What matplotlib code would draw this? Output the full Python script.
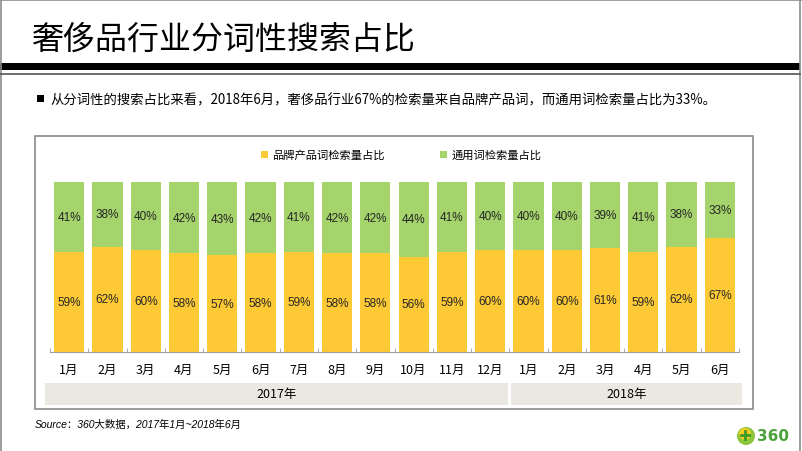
import matplotlib
matplotlib.use('Agg')
import matplotlib.pyplot as plt
import matplotlib.patches as patches

plt.rcParams['font.family'] = ['Noto Sans CJK SC', 'DejaVu Sans']

# --- data ---
months = ['1月', '2月', '3月', '4月', '5月', '6月', '7月', '8月', '9月', '10月', '11月', '12月',
          '1月', '2月', '3月', '4月', '5月', '6月']
brand_share = [59, 62, 60, 58, 57, 58, 59, 58, 58, 56, 59, 60, 60, 60, 61, 59, 62, 67]
generic_share = [41, 38, 40, 42, 43, 42, 41, 42, 42, 44, 41, 40, 40, 40, 39, 41, 38, 33]
years = ['2017年', '2018年']
year_counts = [12, 6]
series_names = ['品牌产品词检索量占比', '通用词检索量占比']

title = '奢侈品行业分词性搜索占比'
summary = '从分词性的搜索占比来看，2018年6月，奢侈品行业67%的检索量来自品牌产品词，而通用词检索量占比为33%。'
source = 'Source：360大数据，2017年1月~2018年6月'

c_brand = '#FDC935'
c_generic = '#A5D46C'
latin_cjk = ['Liberation Sans', 'Noto Sans CJK SC']

W, H = 802, 452
fig = plt.figure(figsize=(W / 100, H / 100), dpi=100)


def frac(x0, y0, x1, y1):
    # pixel box (top-left origin) -> figure fraction rect
    return [x0 / W, 1 - y1 / H, (x1 - x0) / W, (y1 - y0) / H]


# --- page decorations (pixel coordinates) ---
page = fig.add_axes([0, 0, 1, 1])
page.set_xlim(0, W)
page.set_ylim(H, 0)
page.axis('off')

page.plot([0.5, 0.5], [0, H], color='#8c8c8c', lw=1.2)
page.plot([800, 800], [0, H], color='#8c8c8c', lw=1.2)
page.plot([0, W], [0.8, 0.8], color='#8c8c8c', lw=1.2)

page.text(32, 40, title, fontsize=23, va='center', ha='left', color='black')
page.add_patch(patches.Rectangle((0, 64), 800, 7, color='black', lw=0))
page.plot([0, 800], [74.5, 74.5], color='#555555', lw=1.2)

page.add_patch(patches.Rectangle((37, 96), 7, 7, color='black', lw=0))
page.text(50, 100, summary, fontsize=9.6, va='center', ha='left', color='black')

# chart frame
page.add_patch(patches.Rectangle((35, 137), 718, 273, fill=False, edgecolor='#8a8a8a', lw=1.2))

page.text(35, 425, source, fontsize=7.5, va='center', ha='left', style='italic',
          color='black', family=latin_cjk)

# 360 logo
page.add_patch(patches.Circle((746, 437), 9, color='#8cc43c', lw=0))
page.add_patch(patches.Circle((745, 435), 6, color='#f5d020', lw=0))
page.plot([741, 749], [436, 436], color='#3a9a2a', lw=2)
page.plot([745, 745], [432, 440], color='#3a9a2a', lw=2)
page.text(757, 437, '360', fontsize=11, fontweight='bold', color='#4aa33a',
          va='center', ha='left', family='DejaVu Sans')

# --- stacked bars ---
ax = fig.add_axes(frac(50, 183, 739, 353))
x = list(range(len(months)))
b1 = ax.bar(x, brand_share, width=0.79, color=c_brand, label=series_names[0])
b2 = ax.bar(x, generic_share, width=0.79, bottom=brand_share, color=c_generic, label=series_names[1])
ax.bar_label(b1, labels=[f'{v}%' for v in brand_share], label_type='center',
             fontsize=8.5, color='#262626', family='Liberation Sans')
ax.bar_label(b2, labels=[f'{v}%' for v in generic_share], label_type='center',
             fontsize=8.5, color='#262626', family='Liberation Sans')

ax.set_xlim(-0.5, len(months) - 0.5)
ax.set_ylim(0, 100)
ax.patch.set_alpha(0)
for s in ['top', 'right', 'left']:
    ax.spines[s].set_visible(False)
ax.spines['bottom'].set_color('#a0a0a0')
ax.set_yticks([])
ax.set_xticks(x, months, fontsize=9)
ax.tick_params(axis='x', length=0, pad=8)
ax.set_xticks([i - 0.5 for i in range(len(months) + 1)], minor=True)
ax.tick_params(axis='x', which='minor', direction='in', length=3, color='#a0a0a0')

fig.legend(handles=[b1, b2], loc='center', bbox_to_anchor=(401 / W, 1 - 156 / H), ncol=2,
           frameon=False, fontsize=8.1, handlelength=0.6, handleheight=0.6, handletextpad=0.35,
           columnspacing=5.0)

# --- year band ---
yax = fig.add_axes(frac(50, 384, 739, 406))
yax.set_xlim(-0.5, len(months) - 0.5)
yax.set_ylim(0, 1)
yax.axis('off')
start = 0
for i, (yr, n) in enumerate(zip(years, year_counts)):
    left = start - 0.5 + (0.05 if i > 0 else -0.13)
    right = start + n - 0.5 - (0.03 if i == 0 else -0.07)
    yax.add_patch(patches.Rectangle((left, 0), right - left, 1, color='#eae8e1', lw=0, clip_on=False))
    yax.text((left + right) / 2, 0.5, yr, ha='center', va='center', fontsize=9)
    start += n

fig.savefig('out.png', dpi=100)
